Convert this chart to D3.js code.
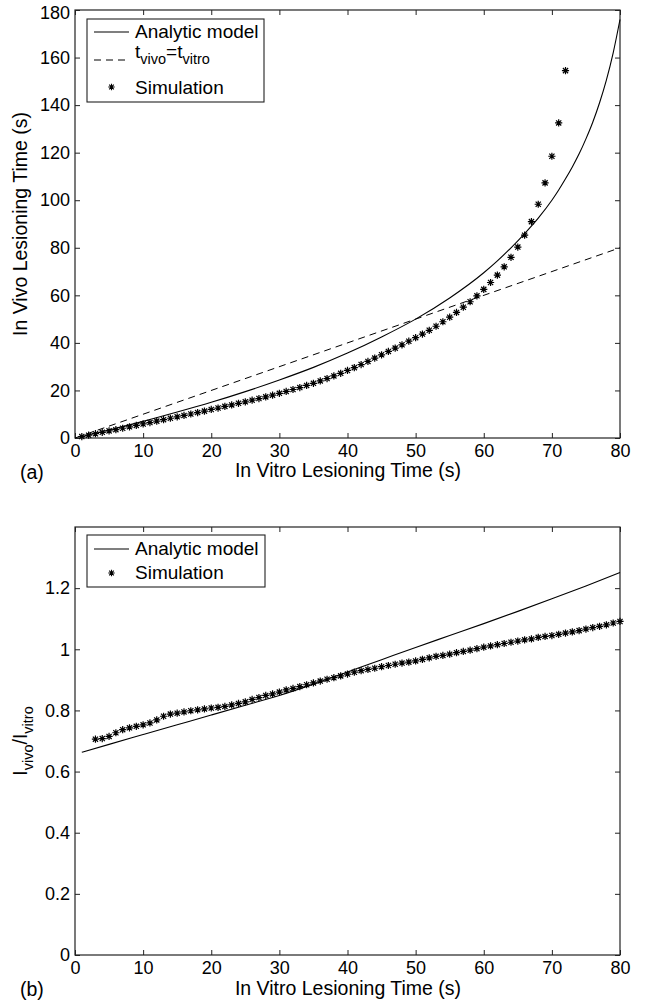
<!DOCTYPE html>
<html>
<head>
<meta charset="utf-8">
<script src="https://cdn.jsdelivr.net/npm/d3@7"></script>
<style>
  html, body { margin: 0; padding: 0; background: #fff; }
  svg text { font-family: "Liberation Sans", Arial, Helvetica, sans-serif; fill: #000; }
</style>
</head>
<body>
<script>
// ---------------- DATA ----------------
const xTicks = [0, 10, 20, 30, 40, 50, 60, 70, 80];
const topYTicks = [0, 20, 40, 60, 80, 100, 120, 140, 160, 180];
const botYTicks = [0, 0.2, 0.4, 0.6, 0.8, 1, 1.2];

// (a) analytic model
const aModelX = [1, 5, 10, 15, 20, 25, 30, 35, 40, 45, 50, 55, 60, 62, 64, 66, 68, 70, 71, 72, 73, 74, 75, 76, 77, 78, 79, 80];
const aModelY = [0.65, 3.4, 7.0, 10.9, 15.0, 19.5, 24.4, 29.7, 35.7, 42.5, 50.0, 58.9, 69.5, 74.5, 80.0, 86.0, 92.5, 100.0, 104.3, 109.0, 114.0, 119.5, 125.8, 132.8, 141.0, 150.5, 162.0, 176.0];
// (a) t_vivo = t_vitro
const aIdentX = [0, 80];
const aIdentY = [0, 80];
// (a) simulation
const aSimX = [1,2,3,4,5,6,7,8,9,10,11,12,13,14,15,16,17,18,19,20,21,22,23,24,25,26,27,28,29,30,31,32,33,34,35,36,37,38,39,40,41,42,43,44,45,46,47,48,49,50,51,52,53,54,55,56,57,58,59,60,61,62,63,64,65,66,67,68,69,70,71,72];
const aSimY = [0.6,1.2,1.8,2.4,3.0,3.5,4.1,4.7,5.3,5.9,
  6.5,7.1,7.7,8.3,8.9,9.5,10.1,10.7,11.3,12.0,
  12.6,13.3,13.9,14.6,15.2,15.9,16.6,17.3,18.0,18.8,
  19.6,20.4,21.2,22.1,23.0,24.0,25.0,26.1,27.2,28.4,
  29.6,30.9,32.2,33.6,35.0,36.4,37.8,39.2,40.7,42.2,
  43.7,45.3,47.0,48.9,50.8,52.8,55.0,57.3,59.8,62.5,
  65.4,68.5,72.0,76.0,80.3,85.3,91.0,98.3,107.3,118.5,132.5,154.5];

// (b) analytic model
const bModelX = [1, 5, 10, 15, 20, 25, 30, 35, 40, 45, 50, 55, 60, 65, 70, 75, 80];
const bModelY = [0.663, 0.689, 0.721, 0.753, 0.785, 0.817, 0.849, 0.886, 0.926, 0.966, 1.006, 1.045, 1.084, 1.124, 1.165, 1.207, 1.251];
// (b) simulation
const bSimX = [3,4,5,6,7,8,9,10,11,12,13,14,15,16,17,18,19,20,21,22,23,24,25,26,27,28,29,30,31,32,33,34,35,36,37,38,39,40,41,42,43,44,45,46,47,48,49,50,51,52,53,54,55,56,57,58,59,60,61,62,63,64,65,66,67,68,69,70,71,72,73,74,75,76,77,78,79,80];
const bSimY = [0.706,0.708,0.715,0.727,0.737,0.743,0.748,0.753,0.759,0.769,
  0.781,0.788,0.791,0.795,0.799,0.802,0.805,0.808,0.810,0.813,
  0.818,0.823,0.828,0.836,0.842,0.849,0.854,0.860,0.867,0.872,
  0.878,0.884,0.890,0.896,0.902,0.907,0.913,0.919,0.925,0.930,
  0.934,0.938,0.943,0.947,0.951,0.955,0.958,0.962,0.967,0.972,
  0.977,0.980,0.984,0.989,0.993,0.997,1.002,1.007,1.011,1.015,
  1.019,1.023,1.027,1.031,1.034,1.039,1.042,1.045,1.049,1.053,
  1.057,1.061,1.066,1.071,1.075,1.080,1.086,1.091];

// ---------------- DRAW ----------------
const W = 647, H = 1006;
const svg = d3.select("body").append("svg").attr("width", W).attr("height", H);

const TICK_FS = 18, LABEL_FS = 19.5, LEG_FS = 19;

function starPath(r) {
  const d = r * 0.72;
  return `M${-r},0L${r},0M0,${-r}L0,${r}M${-d},${-d}L${d},${d}M${-d},${d}L${d},${-d}`;
}

function panel(cfg) {
  const { left, right, top, bottom, yDomain, yTicks, yFmt } = cfg;
  const x = d3.scaleLinear().domain([0, 80]).range([left, right]);
  const y = d3.scaleLinear().domain(yDomain).range([bottom, top]);
  const g = svg.append("g");

  g.append("rect").attr("x", left).attr("y", top).attr("width", right - left).attr("height", bottom - top)
    .attr("fill", "none").attr("stroke", "#222").attr("stroke-width", 1.2);

  const tl = 5;
  const xb = d3.axisBottom(x).tickValues(xTicks).tickSize(-tl).tickPadding(6).tickFormat(d3.format("d"));
  const xbG = g.append("g").attr("transform", `translate(0,${bottom})`).call(xb);
  const xt = d3.axisTop(x).tickValues(xTicks).tickSize(-tl).tickFormat("");
  const xtG = g.append("g").attr("transform", `translate(0,${top})`).call(xt);
  const yl = d3.axisLeft(y).tickValues(yTicks).tickSize(-tl).tickPadding(5).tickFormat(yFmt);
  const ylG = g.append("g").attr("transform", `translate(${left},0)`).call(yl);
  const yr = d3.axisRight(y).tickValues(yTicks).tickSize(-tl).tickFormat("");
  const yrG = g.append("g").attr("transform", `translate(${right},0)`).call(yr);
  [xbG, xtG, ylG, yrG].forEach(a => {
    a.select(".domain").remove();
    a.selectAll(".tick line").attr("stroke", "#222").attr("stroke-width", 1);
    a.selectAll("text").attr("font-size", TICK_FS).attr("font-family", "Liberation Sans, Arial, sans-serif").attr("fill", "#000");
  });
  return { g, x, y, ylG };
}

// ---- panel (a)
const A = panel({ left: 75, right: 620, top: 10, bottom: 438, yDomain: [0, 180], yTicks: topYTicks, yFmt: d3.format("d") });
// keep the topmost label inside the page
A.ylG.selectAll(".tick text").filter(d => d === 180).attr("dy", "0.45em");

const lineA = d3.line().x(d => A.x(d[0])).y(d => A.y(d[1])).curve(d3.curveMonotoneX);
A.g.append("path").datum(aIdentX.map((v, i) => [v, aIdentY[i]]))
  .attr("d", d3.line().x(d => A.x(d[0])).y(d => A.y(d[1])))
  .attr("fill", "none").attr("stroke", "#000").attr("stroke-width", 1).attr("stroke-dasharray", "7,5");
A.g.append("path").datum(aModelX.map((v, i) => [v, aModelY[i]]))
  .attr("d", lineA).attr("fill", "none").attr("stroke", "#000").attr("stroke-width", 1.1);
A.g.append("g").selectAll("path").data(aSimX.map((v, i) => [v, aSimY[i]])).join("path")
  .attr("transform", d => `translate(${A.x(d[0])},${A.y(d[1])})`)
  .attr("d", starPath(3.6)).attr("stroke", "#000").attr("stroke-width", 1.2).attr("fill", "none");

svg.append("text").attr("x", 348).attr("y", 477).attr("text-anchor", "middle").attr("font-size", LABEL_FS)
  .text("In Vitro Lesioning Time (s)");
svg.append("text").attr("transform", "translate(27,224) rotate(-90)").attr("text-anchor", "middle").attr("font-size", LABEL_FS)
  .text("In Vivo Lesioning Time (s)");
svg.append("text").attr("x", 20).attr("y", 479).attr("font-size", LABEL_FS).text("(a)");

// legend (a)
{
  const lg = svg.append("g");
  lg.append("rect").attr("x", 87).attr("y", 19).attr("width", 177).attr("height", 83)
    .attr("fill", "#fff").attr("stroke", "#222").attr("stroke-width", 1.1);
  const sx0 = 94, sx1 = 129, tx = 135;
  lg.append("line").attr("x1", sx0).attr("x2", sx1).attr("y1", 32).attr("y2", 32).attr("stroke", "#000").attr("stroke-width", 1.1);
  lg.append("text").attr("x", tx).attr("y", 38).attr("font-size", LEG_FS).text("Analytic model");
  lg.append("line").attr("x1", sx0).attr("x2", sx1).attr("y1", 60).attr("y2", 60).attr("stroke", "#000").attr("stroke-width", 1).attr("stroke-dasharray", "7,5");
  const t2 = lg.append("text").attr("x", tx).attr("y", 58).attr("font-size", LEG_FS);
  t2.append("tspan").text("t");
  t2.append("tspan").attr("font-size", 14.5).attr("dy", 6).text("vivo");
  t2.append("tspan").attr("dy", -6).text("=t");
  t2.append("tspan").attr("font-size", 14.5).attr("dy", 6).text("vitro");
  lg.append("path").attr("transform", `translate(${(sx0 + sx1) / 2},87)`).attr("d", starPath(3.2))
    .attr("stroke", "#000").attr("stroke-width", 1.1).attr("fill", "none");
  lg.append("text").attr("x", tx).attr("y", 94).attr("font-size", LEG_FS).text("Simulation");
}

// ---- panel (b)
const B = panel({ left: 75, right: 620, top: 527, bottom: 955, yDomain: [0, 1.4], yTicks: botYTicks, yFmt: d => d3.format("")(d) });

const lineB = d3.line().x(d => B.x(d[0])).y(d => B.y(d[1])).curve(d3.curveMonotoneX);
B.g.append("path").datum(bModelX.map((v, i) => [v, bModelY[i]]))
  .attr("d", lineB).attr("fill", "none").attr("stroke", "#000").attr("stroke-width", 1.1);
B.g.append("g").selectAll("path").data(bSimX.map((v, i) => [v, bSimY[i]])).join("path")
  .attr("transform", d => `translate(${B.x(d[0])},${B.y(d[1])})`)
  .attr("d", starPath(3.6)).attr("stroke", "#000").attr("stroke-width", 1.2).attr("fill", "none");

svg.append("text").attr("x", 348).attr("y", 995).attr("text-anchor", "middle").attr("font-size", LABEL_FS)
  .text("In Vitro Lesioning Time (s)");
{
  const yt = svg.append("text").attr("transform", "translate(27,741) rotate(-90)").attr("text-anchor", "middle").attr("font-size", LABEL_FS);
  yt.append("tspan").text("I");
  yt.append("tspan").attr("font-size", 14.5).attr("dy", 6).text("vivo");
  yt.append("tspan").attr("dy", -6).text("/I");
  yt.append("tspan").attr("font-size", 14.5).attr("dy", 6).text("vitro");
}
svg.append("text").attr("x", 20).attr("y", 996).attr("font-size", LABEL_FS).text("(b)");

// legend (b)
{
  const lg = svg.append("g");
  lg.append("rect").attr("x", 87).attr("y", 535).attr("width", 178).attr("height", 52)
    .attr("fill", "#fff").attr("stroke", "#222").attr("stroke-width", 1.1);
  const sx0 = 94, sx1 = 129, tx = 135;
  lg.append("line").attr("x1", sx0).attr("x2", sx1).attr("y1", 549).attr("y2", 549).attr("stroke", "#000").attr("stroke-width", 1.1);
  lg.append("text").attr("x", tx).attr("y", 555).attr("font-size", LEG_FS).text("Analytic model");
  lg.append("path").attr("transform", `translate(${(sx0 + sx1) / 2},573)`).attr("d", starPath(3.2))
    .attr("stroke", "#000").attr("stroke-width", 1.1).attr("fill", "none");
  lg.append("text").attr("x", tx).attr("y", 579).attr("font-size", LEG_FS).text("Simulation");
}
</script>
</body>
</html>
